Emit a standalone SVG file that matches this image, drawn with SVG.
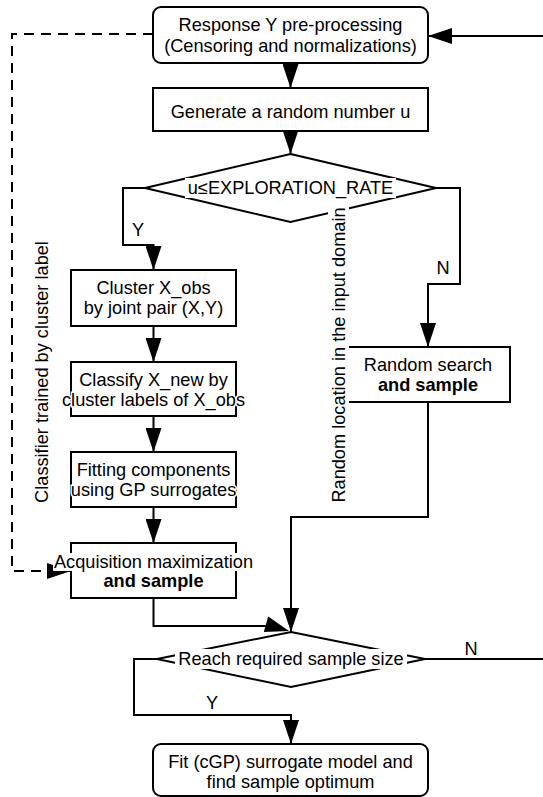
<svg xmlns="http://www.w3.org/2000/svg" width="543" height="797" viewBox="0 0 543 797">
<defs>
<marker id="ah" markerUnits="userSpaceOnUse" markerWidth="24" markerHeight="16" refX="24" refY="8" orient="auto" viewBox="0 0 24 16">
<path d="M0,0 L24,8 L0,16 z" fill="#000"/>
</marker>
<style>
.n{fill:#fff;stroke:#000;stroke-width:2}
.c{fill:none;stroke:#000;stroke-width:2}
.d{fill:none;stroke:#000;stroke-width:2;stroke-dasharray:10 7}
text{font-family:"Liberation Sans",Arial,sans-serif;font-size:18.2px;fill:#000;text-anchor:middle}
.h{paint-order:stroke;stroke:#fff;stroke-width:3}
.b{font-weight:bold}
.bg{fill:#fff;stroke:none}
</style>
</defs>
<rect width="543" height="797" fill="#fff"/>
<g id="connectors">
<path class="d" d="M153,34 H12 V571 H71" marker-end="url(#ah)"/>
<path class="c" d="M544,659 V36 H428" marker-end="url(#ah)"/>
<path class="c" d="M290.5,63 V88" marker-end="url(#ah)"/>
<path class="c" d="M290.5,131 V154" marker-end="url(#ah)"/>
<path class="c" d="M145,188 H123 V245 H153.5 V270" marker-end="url(#ah)"/>
<path class="c" d="M436,188 H460 V284 H428 V347" marker-end="url(#ah)"/>
<path class="c" d="M153.5,326 V362" marker-end="url(#ah)"/>
<path class="c" d="M153.5,416 V452" marker-end="url(#ah)"/>
<path class="c" d="M153.5,507 V543" marker-end="url(#ah)"/>
<path class="c" d="M428,402 V517 H291 V632" marker-end="url(#ah)"/>
<path class="c" d="M153.5,598 V626 H266"/>
<path d="M289,631 L263.8,632 L268.2,616.6 z" fill="#000"/>
<path class="c" d="M157,659 H134 V715 H291 V744" marker-end="url(#ah)"/>
<path class="c" d="M425,659 H544"/>
</g>
<g id="label-y1"><text x="138" y="236">Y</text></g>
<g id="label-n1"><text x="443" y="274">N</text></g>
<g id="label-n2"><text x="471" y="655">N</text></g>
<g id="label-y2"><text x="212" y="709">Y</text></g>
<g id="node-preprocess">
<rect class="n" x="153" y="7" width="275" height="56" rx="8"/>
<text x="290.5" y="31">Response Y pre-processing</text>
<text x="290.5" y="52">(Censoring and normalizations)</text>
</g>
<g id="node-random-u">
<rect class="n" x="153" y="88" width="275" height="43"/>
<text x="290.5" y="118">Generate a random number u</text>
</g>
<g id="node-decision1">
<polygon class="n" points="290.5,154 436,188 290.5,222 145,188"/>
<rect class="bg" x="185" y="178" width="211" height="20"/>
<text x="290.5" y="194">u≤EXPLORATION_RATE</text>
</g>
<g id="node-cluster">
<rect class="n" x="71" y="270" width="165" height="56"/>
<text x="153.5" y="294">Cluster X_obs</text>
<text x="153.5" y="314">by joint pair (X,Y)</text>
</g>
<g id="node-classify">
<rect class="n" x="71" y="362" width="165" height="54"/>
<text class="h" x="153.5" y="386">Classify X_new by</text>
<text class="h" x="153.5" y="406">cluster labels of X_obs</text>
</g>
<g id="node-fitting">
<rect class="n" x="71" y="452" width="165" height="55"/>
<text class="h" x="153.5" y="476">Fitting components</text>
<text class="h" x="153.5" y="496">using GP surrogates</text>
</g>
<g id="node-acquisition">
<rect class="n" x="71" y="543" width="165" height="55"/>
<rect class="bg" x="53" y="553" width="201" height="18"/>
<text x="153.5" y="568">Acquisition maximization</text>
<text class="b" x="153.5" y="587">and sample</text>
</g>
<g id="node-random-search">
<rect class="n" x="346" y="347" width="164" height="55"/>
<text x="428" y="371">Random search</text>
<text class="b" x="428" y="391">and sample</text>
</g>
<g id="node-decision2">
<polygon class="n" points="291,632 425,659 291,687 157,659"/>
<rect class="bg" x="175" y="649" width="232" height="20"/>
<text x="291" y="665">Reach required sample size</text>
</g>
<g id="node-fit-final">
<rect class="n" x="153" y="744" width="275" height="52" rx="8"/>
<text x="290.5" y="768">Fit (cGP) surrogate model and</text>
<text x="290.5" y="788">find sample optimum</text>
</g>
<g id="label-classifier">
<text transform="translate(48,372) rotate(-90)">Classifier trained by cluster label</text>
</g>
<g id="label-random-location">
<rect class="bg" x="328" y="206" width="21" height="298"/>
<text transform="translate(345,355) rotate(-90)">Random location in the input domain</text>
</g>
</svg>
